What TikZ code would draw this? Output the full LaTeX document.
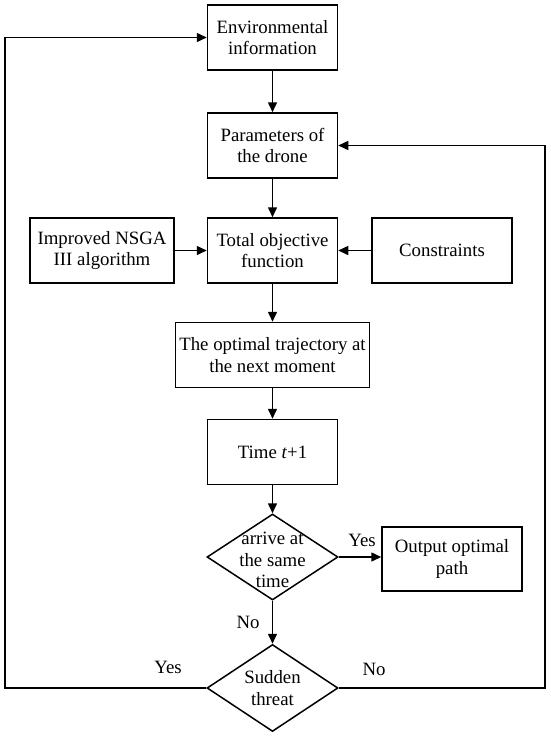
\documentclass[tikz,border=0pt]{standalone}
\usepackage{fontspec}
\setmainfont{Liberation Serif}
\usetikzlibrary{shapes.geometric,arrows.meta}
\begin{document}
\begin{tikzpicture}[x=1pt,y=-1pt,
  every node/.style={font=\fontsize{18.8}{21.7}\selectfont},
  box/.style={draw,line width=1.5pt,rectangle,minimum height=65pt,inner sep=0pt,align=center},
  dia/.style={draw,line width=1.5pt,diamond,inner sep=0pt,minimum width=131pt},
  txt/.style={align=center,inner sep=0pt},
  conn/.style={line width=1.5pt,-{Triangle[length=10pt,width=9pt]}},
  lbl/.style={inner sep=0pt}]
\useasboundingbox (0,0) rectangle (550,737);
\node[box,minimum width=130pt] (env) at (272.5,37.5) {Environmental\\information};
\node[box,minimum width=130pt] (par) at (272.5,145.5) {Parameters of\\the drone};
\node[box,minimum width=130pt] (tot) at (272.5,250.5) {Total objective\\function};
\node[box,minimum width=144pt] (nsga) at (102,250.5) {Improved NSGA\\III algorithm};
\node[box,minimum width=140pt] (cons) at (442,250.5) {Constraints};
\node[box,minimum width=194pt] (opt) at (272.5,355) {The optimal trajectory at\\the next moment};
\node[box,minimum width=130pt] (time) at (272.5,452) {Time \textit{t}+1};
\node[dia,minimum height=86pt] (d1) at (272.5,557) {};
\node[txt] at (272.5,560) {arrive at\\the same\\time};
\node[box,minimum width=140pt,minimum height=64pt] (out) at (452,559) {Output optimal\\path};
\node[dia,minimum height=87pt] (d2) at (272.5,688) {};
\node[txt] at (272.5,688) {Sudden\\threat};
\coordinate (lc) at (5,688);
\coordinate (rc) at (545,688);
\draw[conn] (env) -- (par);
\draw[conn] (par) -- (tot);
\draw[conn] (nsga) -- (tot);
\draw[conn] (cons) -- (tot);
\draw[conn] (tot) -- (opt);
\draw[conn] (opt) -- (time);
\draw[conn] (time) -- (d1.north);
\draw[conn] (d1.east) -- (out.west |- d1.east);
\draw[conn] (d1.south) -- (d2.north);
\draw[conn] (d2.west) -- (lc) |- (env.west);
\draw[conn] (d2.east) -- (rc) |- (par.east);
\node[lbl] (yes1) at (362,540) {Yes};
\node[lbl] (no1) at (248,622) {No};
\node[lbl] (yes2) at (168,667) {Yes};
\node[lbl] (no2) at (374,669) {No};
\end{tikzpicture}
\end{document}
